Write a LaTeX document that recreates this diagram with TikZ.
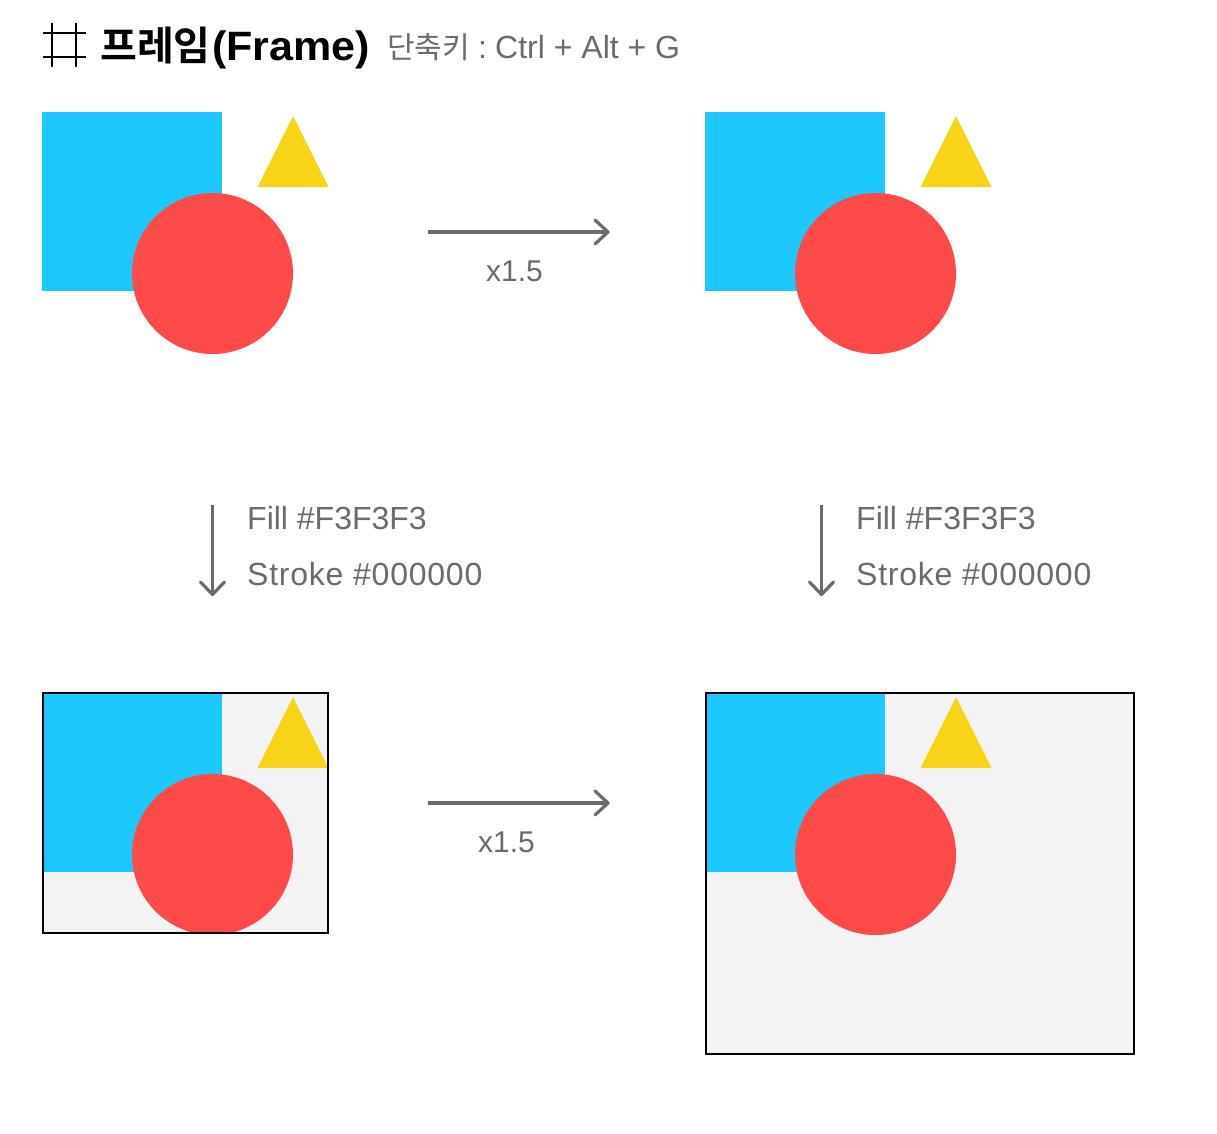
\documentclass[tikz,border=0pt]{standalone}
\usepackage{fontspec}
\setmainfont{Liberation Sans}
\newfontfamily\krfont{Noto Sans CJK KR}
\newfontfamily\krbold{Noto Sans CJK KR Bold}
\newfontfamily\wideb[FakeStretch=1.05]{Liberation Sans Bold}
\definecolor{skyc}{HTML}{1DC8FF}
\definecolor{redc}{HTML}{FF4A4A}
\definecolor{yelc}{HTML}{F7D417}
\definecolor{grayc}{HTML}{6B6B6B}
\definecolor{framec}{HTML}{F3F3F3}
\tikzset{
  x=1pt,y=-1pt,
  arrowline/.style={draw=grayc,line width=3.2pt},
  arrowhead/.style={draw=grayc,line width=3.2pt,line cap=round,line join=round},
  lab/.style={inner sep=0pt,anchor=base west,text=grayc,font=\fontsize{32}{32}\selectfont},
  mult/.style={inner sep=0pt,anchor=base west,text=grayc,font=\fontsize{30}{30}\selectfont},
  strokelab/.style={inner sep=0pt,anchor=base west,text=grayc,font=\fontsize{32}{32}\selectfont\addfontfeature{LetterSpace=2.4}},
  iconline/.style={draw=black,line width=2pt},
  frameb/.style={draw=black,line width=1.9pt,fill=none},
  skyshape/.style={fill=skyc},
  redshape/.style={fill=redc},
  yelshape/.style={fill=yelc},
  frameshape/.style={fill=framec}
}
\newcommand{\shapeset}[2]{%
  \fill[skyshape] (#1,#2) rectangle ++(179.6,179);
  \fill[yelshape] (#1+215.3,#2+75) -- (#1+250.8,#2+4) -- (#1+286.3,#2+75) -- cycle;
  \fill[redshape] (#1+170.3,#2+161.5) circle (80.5);
}
\begin{document}
\begin{tikzpicture}
\useasboundingbox (0,0) rectangle (1217,1133);
\fill[white] (0,0) rectangle (1217,1133);
% icon
\draw[iconline] (42.5,32.5) -- (85.5,32.5) (42.5,56.5) -- (85.5,56.5) (52,23) -- (52,67) (76,23) -- (76,67);
\node[inner sep=0pt,anchor=base west,font=\fontsize{40}{40}\selectfont\krbold] (title) at (100,60) {프레임};
\node[inner sep=0pt,anchor=base west,font=\fontsize{41}{41}\selectfont\wideb] (titleb) at (212,60) {(Frame)};
\node[inner sep=0pt,anchor=base west,text=grayc,font=\fontsize{30}{30}\selectfont\krfont] (hint) at (387,58) {단축키};
\node[lab] (hintb) at (478,58) {:};
\node[lab] (hintc) at (495,58) {Ctrl + Alt + G};
% top row
\shapeset{42.2}{112}
\shapeset{705.2}{112}
% arrows
\coordinate (a1s) at (428,232); \coordinate (a1e) at (608,232);
\draw[arrowline] (a1s) -- (a1e);
\draw[arrowhead] (595,220) -- (a1e) -- (595,244);
\node[mult] (l1) at (486,281) {x1.5};
\coordinate (a2s) at (428,803); \coordinate (a2e) at (608,803);
\draw[arrowline] (a2s) -- (a2e);
\draw[arrowhead] (595,791) -- (a2e) -- (595,815);
\node[mult] (l2) at (478,852) {x1.5};
\coordinate (a3s) at (212.5,505); \coordinate (a3e) at (212.5,594.5);
\draw[arrowline] (a3s) -- (a3e);
\draw[arrowhead] (200.5,582) -- (a3e) -- (224.5,582);
\coordinate (a4s) at (821.5,505); \coordinate (a4e) at (821.5,594.5);
\draw[arrowline] (a4s) -- (a4e);
\draw[arrowhead] (809.5,582) -- (a4e) -- (833.5,582);
\node[lab] (f1) at (247,529) {Fill \#F3F3F3};
\node[strokelab] (s1) at (247,585) {Stroke \#000000};
\node[lab] (f2) at (856,529) {Fill \#F3F3F3};
\node[strokelab] (s2) at (856,585) {Stroke \#000000};
% bottom left frame
\fill[frameshape] (43.3,693.3) rectangle (328.3,933.3);
\begin{scope}
\clip (43.3,693.3) rectangle (328.3,933.3);
\shapeset{42.2}{693}
\end{scope}
\draw[frameb] (43.3,693.3) rectangle (328.3,933.3);
% bottom right frame
\fill[frameshape] (706,693.3) rectangle (1134.3,1054.3);
\begin{scope}
\clip (706,693.3) rectangle (1134.3,1054.3);
\shapeset{705.2}{693}
\end{scope}
\draw[frameb] (706,693.3) rectangle (1134.3,1054.3);
\end{tikzpicture}
\end{document}
